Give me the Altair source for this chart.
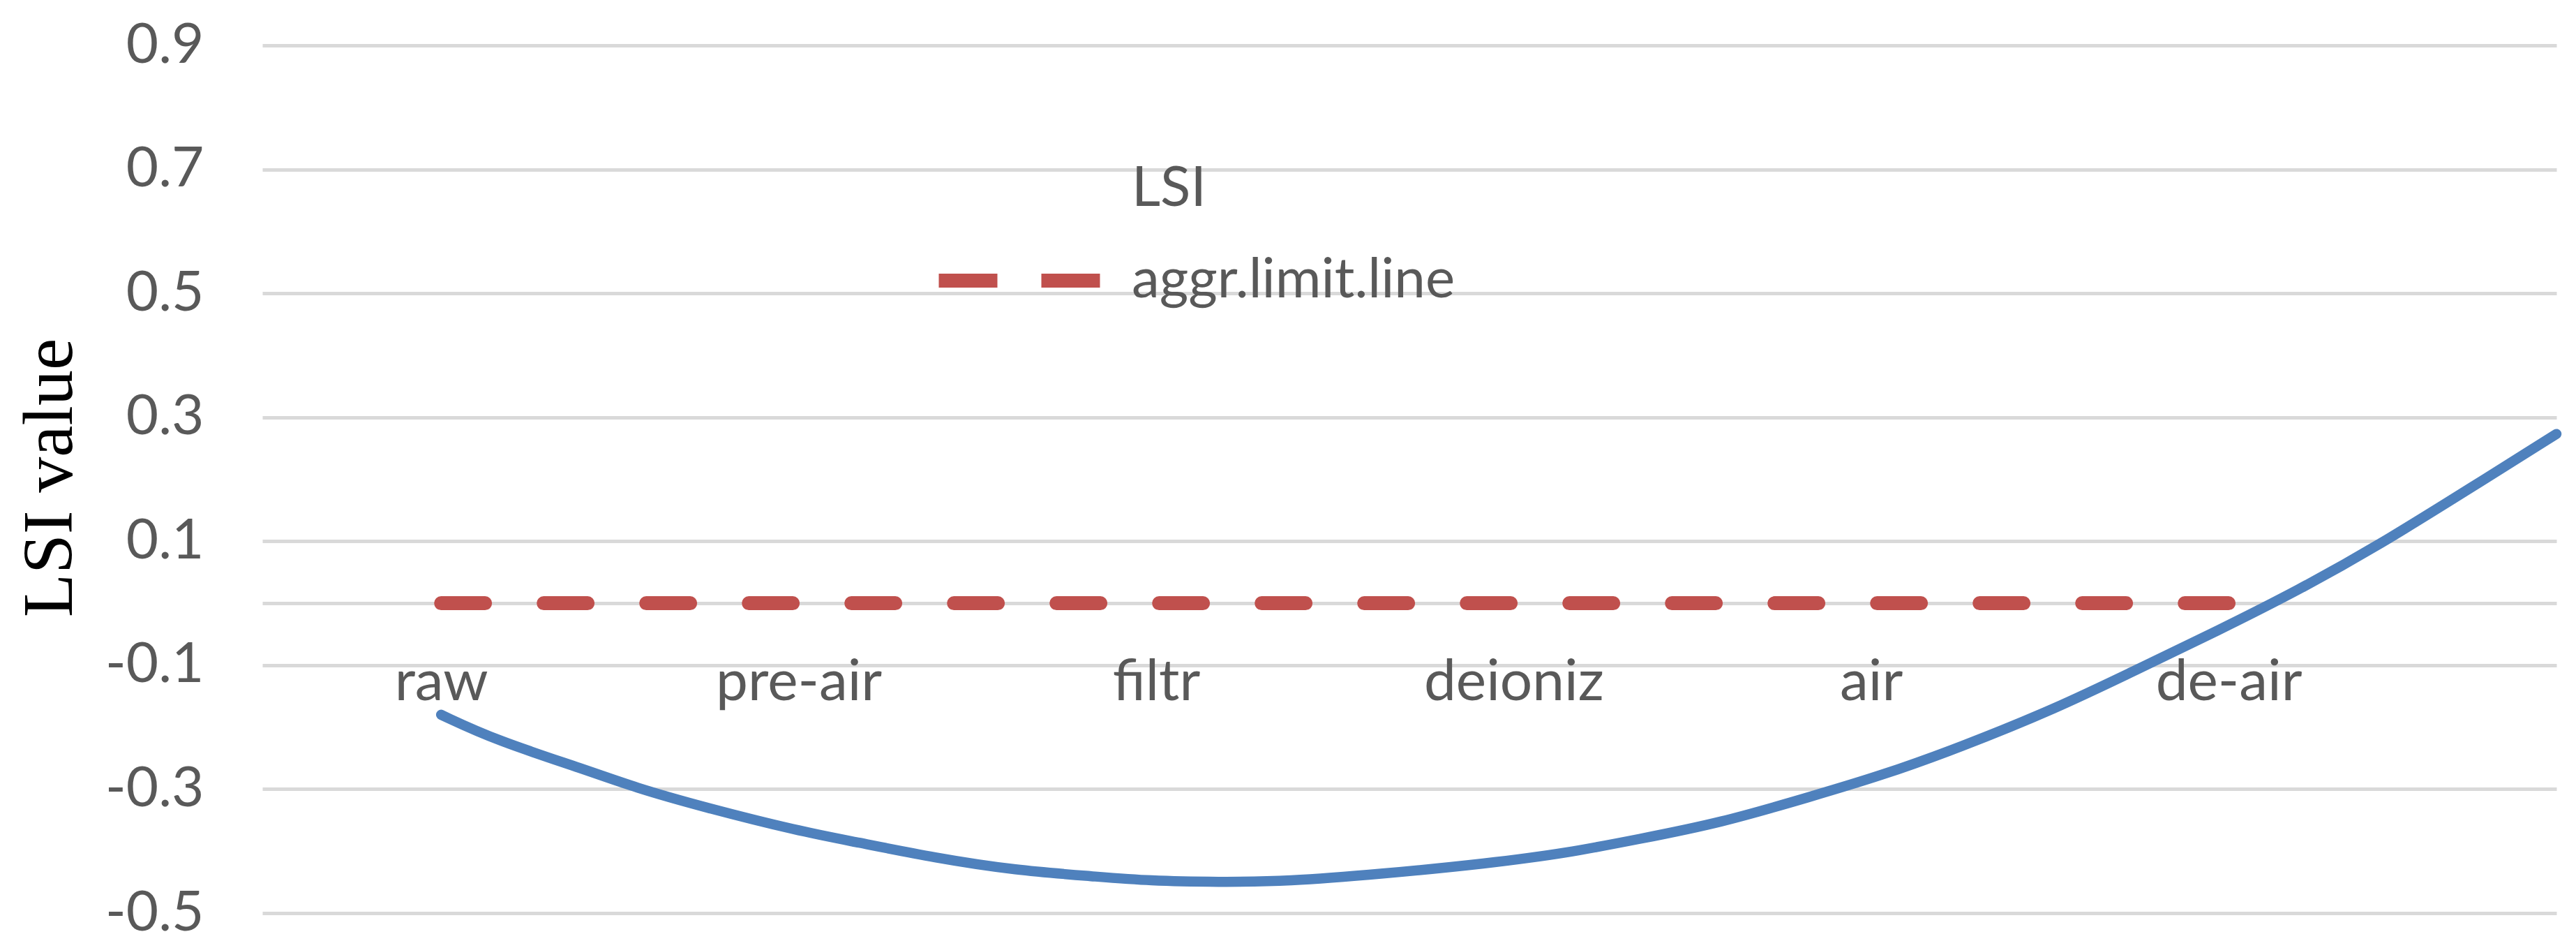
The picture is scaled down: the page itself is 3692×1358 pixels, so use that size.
import json
import altair as alt
import pandas as pd

# ---- data ----
categories = ["raw", "pre-air", "filtr", "deioniz", "air", "de-air"]
limit_values = [0.0, 0.0, 0.0, 0.0, 0.0, 0.0]
series_names = ["LSI", "aggr.limit.line"]

# LSI trend curve: position along the category axis (0 = raw ... 5 = de-air) and value
curve_pos = [0.0, 0.152, 0.406, 0.540, 0.734, 1.003, 1.158, 1.382, 1.606, 1.831,
             1.980, 2.174, 2.367, 2.628, 2.927, 3.151, 3.346, 3.576, 3.837, 4.024,
             4.247, 4.517, 4.747, 4.971, 5.195, 5.419, 5.688, 5.917]
curve_lsi = [-0.180, -0.221, -0.269, -0.297, -0.329, -0.368, -0.385, -0.411, -0.431, -0.441,
             -0.448, -0.450, -0.449, -0.437, -0.420, -0.403, -0.381, -0.355, -0.311, -0.279,
             -0.233, -0.170, -0.106, -0.044, 0.021, 0.093, 0.190, 0.273]

y_ticks = [-0.5, -0.3, -0.1, 0.0, 0.1, 0.3, 0.5, 0.7, 0.9]
x_domain = [-0.5, 5.917]
y_domain = [-0.5, 0.9]

# ---- tables ----
limit_df = pd.DataFrame({
    "pos": list(range(len(categories))),
    "value": limit_values,
    "series": [series_names[1]] * len(categories),
})
curve_df = pd.DataFrame({"pos": curve_pos, "value": curve_lsi})

LABEL_COLOR = "#595959"
GRID = "#D9D9D9"
FONT = "Lato"

x_enc = alt.X(
    "pos:Q",
    title=None,
    scale=alt.Scale(domain=x_domain, nice=False, zero=False),
    axis=alt.Axis(
        values=list(range(len(categories))),
        labelExpr=f"{json.dumps(categories)}[datum.value]",
        domain=False, ticks=False, tickSize=0, grid=False,
        offset=-444, labelPadding=138, labelBaseline="alphabetic",
        labelFont=FONT, labelFontSize=82, labelColor=LABEL_COLOR,
        labelLimit=1000, labelFlush=False, labelOverlap=False,
    ),
)

y_enc = alt.Y(
    "value:Q",
    title="LSI value",
    scale=alt.Scale(domain=y_domain, nice=False, zero=False),
    axis=alt.Axis(
        values=y_ticks,
        labelExpr="datum.value == 0 ? '' : (datum.value < 0 ? '-' : '') + format(abs(datum.value), '.1f')",
        grid=True, gridColor=GRID, gridWidth=5,
        domain=False, ticks=False, tickSize=0,
        labelPadding=84, labelFont=FONT, labelFontSize=80, labelColor=LABEL_COLOR,
        labelFlush=False,
        titleFont="Liberation Serif", titleFontSize=102, titleFontWeight="normal",
        titleColor="#000000", titleAngle=270, titleX=-274, titleY=619,
        titleAlign="center", titleBaseline="alphabetic",
    ),
)

# legend symbol: a long horizontal stroke (path scaled by sqrt(size)/2)
SYMBOL_PATH = "M-4,0H4"

dashed = alt.Chart(limit_df).mark_line(
    strokeWidth=20, strokeDash=[63, 84], strokeCap="round"
).encode(
    x=x_enc,
    y=y_enc,
    color=alt.Color(
        "series:N",
        scale=alt.Scale(domain=series_names, range=["transparent", "#C0504D"]),
        legend=alt.Legend(
            title=None, orient="none", legendX=1045, legendY=166,
            direction="vertical", symbolType=SYMBOL_PATH, symbolSize=57.75 * 57.75,
            symbolStrokeWidth=20, symbolDash=[84, 63], symbolFillColor="transparent",
            labelFont=FONT, labelFontSize=80, labelColor=LABEL_COLOR,
            labelOffset=121, labelLimit=1000, rowPadding=51, padding=0,
        ),
    ),
)

curve = alt.Chart(curve_df).mark_line(
    color="#4F81BD", strokeWidth=14.5, interpolate="basis", strokeCap="round"
).encode(x=x_enc, y=y_enc)

chart = alt.layer(dashed, curve).properties(
    width=3288,
    height=1243,
    autosize=alt.AutoSizeParams(type="none"),
    padding={"left": 368, "top": 57, "right": 8, "bottom": 45},
    background="white",
).configure_view(stroke="transparent")

chart.save("out.html", embed_options={"renderer": "svg", "actions": False})
